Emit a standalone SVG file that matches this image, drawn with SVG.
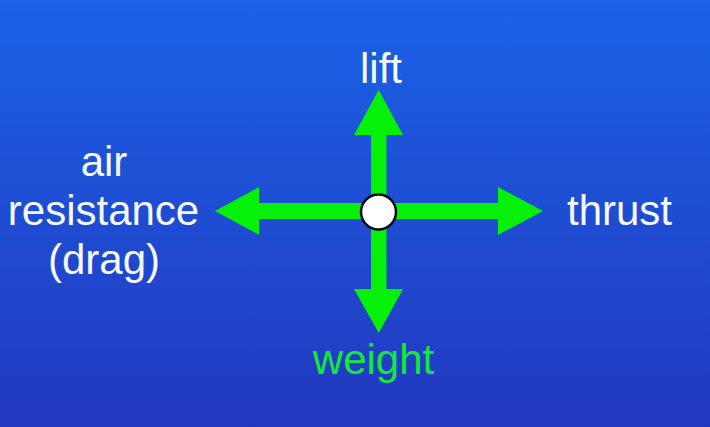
<svg xmlns="http://www.w3.org/2000/svg" width="710" height="427" viewBox="0 0 710 427">
<defs>
<linearGradient id="bg" x1="0" y1="0" x2="0" y2="1"><stop offset="0" stop-color="#1a62e6"/><stop offset="1" stop-color="#2238bf"/></linearGradient>
</defs>
<style>
text{font-family:"Liberation Sans",Arial,sans-serif;font-size:42px;fill:#f4f8ff;text-anchor:middle}
.arrow{fill:#06f00a}
</style>
<rect width="710" height="427" fill="url(#bg)"/>
<g id="connectors">
<polygon class="arrow" points="371,211 371,135 354,135 378.700,90 403,135 386.500,135 386.500,211"/>
<polygon class="arrow" points="371,211 371,289 354,289 378.700,333 403,289 386.500,289 386.500,211"/>
<polygon class="arrow" points="378,203 498,203 498,187 543,211 498,235 498,219 378,219"/>
<polygon class="arrow" points="378,203 259,203 259,187 215,211 259,235 259,219 378,219"/>
</g>
<g id="center"><circle cx="378.500" cy="212" r="17.500" fill="#fff" stroke="#0a0a14" stroke-width="2.500"/></g>
<g id="lift"><text x="381" y="83">lift</text></g>
<g id="thrust"><text x="619.500" y="225">thrust</text></g>
<g id="weight"><text x="373.500" y="374" style="fill:#14e83c">weight</text></g>
<g id="drag"><text x="104" y="176">air</text><text x="103.500" y="225">resistance</text><text x="104" y="274">(drag)</text></g>
</svg>
